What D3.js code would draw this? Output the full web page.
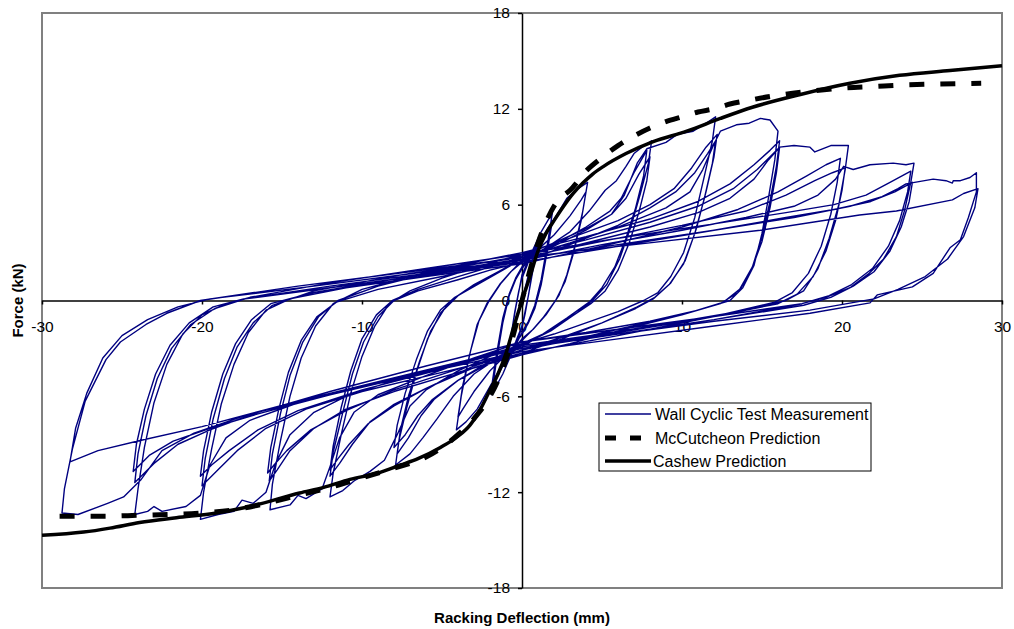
<!DOCTYPE html>
<html>
<head>
<meta charset="utf-8">
<script src="https://cdn.jsdelivr.net/npm/d3@7"></script>
<style>
  html, body { margin: 0; padding: 0; background: #fff; }
  svg { display: block; font-family: "Liberation Sans", Arial, sans-serif; }
</style>
</head>
<body>
<svg id="chart" width="1014" height="629"></svg>
<script>
// ---- axis ticks ----
const xTicks = [-30, -20, -10, 0, 10, 20, 30];
const yTicks = [-18, -12, -6, 0, 6, 12, 18];

// ---- wall cyclic test record: [deflection mm, force kN], one array per cycle ----
const cyc1a = [[0,0],[0.3,1.2],[0.6,2.4],[0.9,3.6],[0.7,2.2],[0.45,0.6],[0.2,-0.8],[0,-1.7],[-0.4,-2.7],[-0.9,-3.8],[-0.7,-2.3],[-0.45,-0.7],[-0.2,0.6],[0,1.4]];
const cyc1b = [[0,1.4],[0.4,2.4],[0.9,3.4],[0.7,2.0],[0.4,0.3],[0.15,-0.9],[0,-1.6],[-0.4,-2.6],[-0.9,-3.6],[-0.65,-2.0],[-0.4,-0.5],[-0.15,0.8],[0,1.6]];
const cyc2a = [[0,1.6],[0.6,3.0],[1.2,4.3],[1.9,5.5],[1.6,3.6],[1.2,1.3],[0.8,-0.3],[0.4,-1.3],[0,-2.0],[-0.6,-3.2],[-1.2,-4.6],[-1.9,-5.9],[-1.6,-3.8],[-1.2,-1.4],[-0.8,0.3],[-0.4,1.3],[0,2.0]];
const cyc2b = [[0,2.0],[0.7,2.9],[1.3,4.0],[1.9,5.0],[1.6,3.2],[1.2,1.0],[0.8,-0.5],[0.4,-1.4],[0,-2.1],[-0.7,-3.1],[-1.3,-4.3],[-1.9,-5.4],[-1.6,-3.4],[-1.2,-1.1],[-0.8,0.4],[-0.4,1.4],[0,2.1]];
const cyc3a = [[0,2.1],[1.0,3.3],[1.9,4.9],[2.8,6.4],[3.5,7.0],[4.1,7.4],[3.8,5.6],[3.3,3.4],[2.8,1.6],[2.3,0.3],[1.5,-0.9],[0.7,-1.8],[0,-2.4],[-1.0,-3.6],[-1.9,-5.2],[-2.8,-6.8],[-3.5,-7.6],[-4.1,-8.1],[-3.8,-6.0],[-3.3,-3.5],[-2.8,-1.5],[-2.2,-0.2],[-1.4,1.0],[-0.7,1.8],[0,2.4]];
const cyc3b = [[0,2.4],[1.0,3.2],[2.0,4.1],[3.0,5.3],[3.7,6.3],[4.0,6.8],[3.7,5.0],[3.2,2.9],[2.7,1.2],[2.1,0.0],[1.3,-1.1],[0.6,-1.9],[0,-2.5],[-1.0,-3.4],[-2.0,-4.4],[-3.0,-5.7],[-3.7,-6.8],[-4.0,-7.3],[-3.7,-5.3],[-3.2,-3.1],[-2.7,-1.3],[-2.1,-0.1],[-1.3,1.1],[-0.6,1.9],[0,2.5]];
const cyc4a = [[0,2.5],[1.5,3.3],[3.0,4.3],[4.2,5.6],[5.2,6.9],[5.9,7.5],[6.5,8.4],[7.0,9.2],[7.5,9.6],[8.1,10.0],[7.9,8.6],[7.4,6.7],[6.8,4.6],[6.1,2.6],[5.3,1.0],[4.4,0.0],[3.4,-0.8],[1.8,-1.9],[0,-2.8],[-1.5,-3.6],[-3.0,-4.6],[-4.3,-6.0],[-5.3,-7.4],[-6.2,-8.6],[-7.0,-9.6],[-7.9,-10.3],[-7.7,-8.8],[-7.2,-6.7],[-6.6,-4.5],[-5.9,-2.4],[-5.1,-0.8],[-4.3,0.1],[-3.0,1.0],[-1.5,1.8],[0,2.6]];
const cyc4b = [[0,2.6],[2.0,3.5],[4.0,4.6],[5.5,5.6],[6.2,6.4],[7.0,8.0],[7.8,9.4],[7.6,7.8],[7.1,5.8],[6.5,3.9],[5.8,2.1],[5.0,0.8],[4.2,-0.1],[2.8,-1.1],[1.3,-2.1],[0,-2.9],[-2.0,-3.9],[-4.0,-5.0],[-5.5,-6.2],[-6.3,-7.2],[-7.1,-8.6],[-7.8,-9.6],[-7.6,-8.1],[-7.1,-6.0],[-6.4,-3.8],[-5.7,-1.9],[-4.9,-0.6],[-4.0,0.3],[-2.5,1.2],[-1.2,1.9],[0,2.8]];
const cyc4c = [[0,2.8],[2.0,3.6],[4.0,4.5],[5.6,5.4],[6.5,6.4],[7.3,7.9],[8.0,9.0],[7.8,7.5],[7.3,5.5],[6.7,3.6],[6.0,1.9],[5.2,0.6],[4.3,-0.2],[2.8,-1.2],[1.3,-2.1],[0,-2.7],[-2.0,-3.8],[-4.0,-5.0],[-5.6,-6.2],[-6.5,-7.2],[-7.3,-8.4],[-8.0,-9.2],[-7.8,-7.8],[-7.3,-5.8],[-6.6,-3.7],[-5.9,-1.9],[-5.1,-0.6],[-4.2,0.2],[-2.6,1.1],[-1.2,1.9],[0,2.6]];
const cyc5a = [[0,2.6],[2.0,3.4],[4.0,4.4],[5.6,5.4],[6.4,6.6],[7.2,8.6],[7.8,9.5],[9.0,9.9],[9.7,10.4],[10.7,10.6],[11.5,11.1],[12.1,11.5],[11.9,10.0],[11.4,7.8],[10.8,5.2],[10.1,3.0],[9.3,1.5],[8.5,0.5],[7.6,0.0],[6.0,-0.7],[4.0,-1.4],[2.0,-2.1],[0,-2.7],[-2.0,-3.5],[-4.0,-4.4],[-6.0,-5.6],[-7.0,-6.6],[-7.8,-8.4],[-8.6,-10.0],[-9.5,-10.7],[-10.5,-11.3],[-11.2,-11.9],[-12.0,-12.3],[-11.8,-10.8],[-11.3,-8.4],[-10.7,-5.8],[-10.0,-3.5],[-9.2,-1.6],[-8.3,-0.2],[-7.0,0.6],[-5.0,1.4],[-2.5,2.2],[0,2.9]];
const cyc5b = [[0,2.9],[3.0,3.9],[6.0,5.0],[8.0,6.0],[9.5,7.0],[10.6,8.3],[11.5,9.6],[12.2,10.4],[12.0,9.0],[11.5,6.8],[10.9,4.5],[10.2,2.5],[9.3,1.1],[8.3,0.2],[7.2,-0.4],[5.0,-1.4],[2.5,-2.4],[0,-3.3],[-3.0,-4.2],[-6.0,-5.5],[-8.0,-6.5],[-9.5,-7.6],[-10.6,-9.0],[-11.4,-10.2],[-12.0,-11.0],[-11.8,-9.5],[-11.2,-7.0],[-10.6,-4.6],[-9.9,-2.6],[-9.0,-1.0],[-8.0,0.0],[-6.5,0.6],[-4.0,1.3],[-2.0,1.9],[0,2.4]];
const cyc5c = [[0,2.4],[3.0,3.5],[6.0,4.7],[8.0,5.8],[9.6,6.8],[10.8,8.0],[11.6,9.2],[12.1,10.0],[11.9,8.6],[11.4,6.4],[10.8,4.2],[10.1,2.3],[9.2,1.0],[8.2,0.1],[7.1,-0.5],[5.0,-1.4],[2.5,-2.3],[0,-3.1],[-3.0,-4.1],[-6.0,-5.5],[-8.0,-6.6],[-9.6,-7.7],[-10.8,-9.0],[-11.5,-9.9],[-12.0,-10.6],[-11.8,-9.1],[-11.3,-6.7],[-10.7,-4.4],[-10.0,-2.4],[-9.1,-0.9],[-8.1,0.0],[-6.5,0.7],[-4.0,1.5],[-2.0,2.1],[0,2.7]];
const cyc6a = [[0,2.7],[3.0,3.6],[6.0,4.6],[9.0,5.8],[10.5,6.8],[11.3,8.2],[12.0,9.8],[12.4,10.6],[13.4,11.0],[14.2,11.1],[14.9,11.4],[15.5,11.3],[16.0,10.6],[15.8,8.8],[15.4,6.4],[15.0,4.2],[14.5,2.2],[13.8,0.8],[13.0,0.0],[11.0,-0.6],[8.0,-1.3],[4.0,-2.0],[0,-2.6],[-3.0,-3.6],[-6.0,-4.7],[-9.0,-5.9],[-10.5,-7.0],[-11.4,-8.6],[-12.0,-10.4],[-12.5,-11.8],[-13.5,-12.4],[-14.0,-12.2],[-14.5,-12.8],[-15.75,-13.1],[-15.6,-11.5],[-15.1,-8.8],[-14.5,-6.0],[-13.8,-3.6],[-12.9,-1.6],[-11.8,-0.2],[-10.0,0.7],[-7.0,1.5],[-3.5,2.3],[0,3.0]];
const cyc6b = [[0,3.0],[4.0,4.0],[8.0,5.1],[11.0,6.2],[13.0,7.3],[14.5,8.5],[15.5,9.4],[16.1,10.0],[15.9,8.4],[15.5,6.2],[15.0,4.0],[14.4,2.1],[13.6,0.7],[12.6,-0.1],[10.0,-0.9],[6.0,-1.9],[3.0,-2.7],[0,-3.4],[-4.0,-4.5],[-8.0,-5.7],[-11.0,-6.8],[-13.0,-8.0],[-14.5,-9.4],[-15.3,-10.6],[-15.8,-11.3],[-15.6,-9.6],[-15.1,-7.1],[-14.5,-4.7],[-13.7,-2.6],[-12.7,-1.0],[-11.5,0.0],[-9.0,0.9],[-5.0,1.9],[0,2.8]];
const cyc6c = [[0,2.8],[4.0,3.8],[8.0,4.9],[11.0,5.9],[13.2,7.0],[14.7,8.2],[15.6,9.1],[16.1,9.6],[15.9,8.0],[15.5,5.8],[15.0,3.7],[14.3,1.8],[13.5,0.5],[12.4,-0.2],[10.0,-0.9],[6.0,-1.8],[3.0,-2.5],[0,-3.1],[-4.0,-4.3],[-8.0,-5.6],[-11.0,-6.9],[-13.2,-8.1],[-14.7,-9.4],[-15.5,-10.3],[-15.9,-10.8],[-15.7,-9.2],[-15.2,-6.8],[-14.6,-4.5],[-13.8,-2.5],[-12.8,-1.0],[-11.6,-0.1],[-9.0,0.7],[-5.0,1.5],[0,2.6]];
const cyc7a = [[0,2.6],[4.0,3.6],[8.0,4.6],[11.0,5.5],[13.0,6.4],[14.5,7.6],[15.4,8.8],[16.1,9.6],[17.0,9.7],[18.0,9.6],[18.3,9.3],[19.3,9.7],[20.4,9.7],[20.2,8.2],[19.8,6.0],[19.2,3.9],[18.5,2.0],[17.6,0.6],[16.5,0.0],[14.0,-0.6],[10.0,-1.3],[5.0,-2.1],[0,-2.8],[-4.0,-3.9],[-8.0,-5.0],[-11.0,-6.0],[-13.0,-7.0],[-14.5,-8.4],[-15.4,-10.2],[-16.0,-12.0],[-16.8,-12.7],[-17.5,-12.5],[-18.0,-13.2],[-19.0,-13.4],[-20.1,-13.7],[-19.9,-12.0],[-19.4,-9.3],[-18.8,-6.5],[-18.0,-4.0],[-17.1,-2.0],[-16.0,-0.6],[-14.5,0.1],[-11.0,0.8],[-6.0,1.5],[0,2.3]];
const cyc7b = [[0,2.3],[5.0,3.4],[10.0,4.6],[13.5,5.7],[16.0,6.8],[17.8,7.8],[19.0,8.5],[19.9,8.9],[19.7,7.4],[19.3,5.4],[18.7,3.4],[17.9,1.7],[16.9,0.5],[15.8,-0.1],[12.0,-1.0],[6.0,-2.2],[0,-3.3],[-5.0,-4.5],[-10.0,-5.7],[-13.5,-6.8],[-16.0,-8.0],[-17.8,-9.4],[-19.0,-10.6],[-20.0,-11.6],[-19.8,-9.9],[-19.3,-7.4],[-18.6,-4.9],[-17.8,-2.9],[-16.8,-1.4],[-15.6,-0.3],[-13.0,0.6],[-7.0,1.7],[0,2.7]];
const cyc7c = [[0,2.7],[5.0,3.7],[10.0,4.7],[14.0,5.6],[16.5,6.6],[18.3,7.5],[19.4,8.0],[20.2,8.3],[20.0,6.9],[19.6,5.0],[19.0,3.1],[18.2,1.5],[17.2,0.4],[16.0,-0.2],[12.0,-1.0],[6.0,-2.0],[0,-2.9],[-5.0,-4.3],[-10.0,-5.6],[-14.0,-6.9],[-16.5,-8.1],[-18.3,-9.4],[-19.4,-10.3],[-20.1,-11.0],[-19.9,-9.4],[-19.4,-7.0],[-18.7,-4.6],[-17.9,-2.7],[-16.9,-1.2],[-15.7,-0.2],[-13.0,0.5],[-7.0,1.5],[0,2.5]];
const cyc8a = [[0,2.5],[5.0,3.5],[10.0,4.4],[14.0,5.2],[17.0,5.9],[18.5,6.6],[19.6,7.6],[20.1,8.4],[20.7,8.2],[21.75,8.5],[23.2,8.6],[24.0,8.5],[24.5,8.6],[24.3,7.4],[23.9,5.6],[23.4,4.0],[22.6,2.6],[21.7,1.7],[20.5,0.8],[19.0,0.2],[17.5,-0.2],[12.0,-1.2],[6.0,-2.1],[0,-3.0],[-5.0,-4.2],[-10.0,-5.4],[-14.0,-6.4],[-17.0,-7.5],[-18.5,-8.6],[-19.5,-10.3],[-20.1,-12.2],[-21.0,-12.9],[-22.5,-13.2],[-23.0,-12.9],[-23.4,-13.2],[-24.2,-13.4],[-24.0,-11.8],[-23.6,-9.2],[-23.0,-6.4],[-22.2,-4.0],[-21.2,-2.1],[-20.0,-0.9],[-18.5,-0.2],[-17.0,0.2],[-12.0,1.1],[-6.0,2.0],[0,2.9]];
const cyc8b = [[0,2.9],[6.0,3.9],[12.0,4.8],[16.5,5.5],[19.5,6.0],[21.5,6.6],[23.0,7.4],[24.3,8.1],[24.1,6.8],[23.6,5.0],[22.9,3.4],[21.9,2.0],[20.6,1.0],[19.2,0.3],[17.5,-0.2],[12.0,-1.0],[6.0,-1.8],[0,-2.6],[-6.0,-4.1],[-12.0,-5.7],[-16.5,-7.0],[-19.5,-8.1],[-21.5,-9.0],[-23.0,-10.2],[-24.2,-11.4],[-24.0,-9.6],[-23.5,-7.2],[-22.8,-4.9],[-21.9,-3.0],[-20.7,-1.5],[-19.2,-0.5],[-17.3,0.1],[-12.0,0.8],[-6.0,1.6],[0,2.4]];
const cyc8c = [[0,2.4],[6.0,3.4],[12.0,4.4],[16.5,5.2],[19.5,5.7],[21.8,6.2],[23.3,6.8],[24.4,7.4],[24.2,6.2],[23.7,4.6],[23.0,3.1],[22.0,1.8],[20.7,0.9],[19.3,0.2],[17.6,-0.3],[12.0,-1.2],[6.0,-2.1],[0,-3.0],[-6.0,-4.4],[-12.0,-5.9],[-16.5,-7.1],[-19.5,-8.0],[-21.8,-8.8],[-23.3,-9.7],[-24.3,-10.7],[-24.1,-9.0],[-23.6,-6.8],[-22.9,-4.6],[-22.0,-2.8],[-20.8,-1.4],[-19.3,-0.4],[-17.4,0.1],[-12.0,0.9],[-6.0,1.7],[0,2.6]];
const cyc9a = [[0,2.6],[6.0,3.5],[12.0,4.4],[17.0,5.2],[20.5,5.9],[22.5,6.5],[23.5,7.0],[24.0,7.3],[25.7,7.6],[26.5,7.5],[26.9,7.35],[26.95,7.5],[27.4,7.5],[28.0,7.7],[28.4,8.0],[28.4,6.8],[27.9,5.2],[27.4,3.8],[26.75,3.3],[25.7,1.7],[24.4,0.85],[22.2,0.35],[21.75,-0.15],[18.0,-0.8],[12.0,-1.6],[6.0,-2.4],[0,-3.2],[-6.0,-4.5],[-12.0,-5.9],[-17.0,-7.1],[-20.5,-8.3],[-22.5,-9.4],[-23.8,-11.2],[-24.9,-12.3],[-25.9,-12.7],[-27.75,-13.4],[-28.75,-13.3],[-28.6,-11.8],[-28.1,-9.3],[-27.3,-6.3],[-26.0,-3.7],[-25.1,-2.6],[-23.5,-1.5],[-22.2,-0.8],[-20.1,0.0],[-14.0,0.9],[-7.0,1.8],[0,2.7]];
const cyc9b = [[0,2.7],[7.0,3.5],[14.9,4.4],[21.1,5.35],[23.4,5.6],[26.9,6.3],[27.6,6.7],[28.5,7.0],[28.3,5.8],[27.6,4.0],[26.6,2.6],[25.2,1.5],[23.5,0.7],[22.0,0.1],[18.0,-0.6],[12.0,-1.3],[6.0,-2.1],[0,-2.9],[-7.0,-4.6],[-14.0,-6.3],[-20.0,-7.9],[-24.0,-8.8],[-26.5,-9.4],[-28.25,-10.1],[-27.9,-8.0],[-27.2,-5.8],[-26.2,-3.6],[-25.0,-2.2],[-23.4,-1.2],[-21.5,-0.4],[-19.5,0.1],[-13.0,0.9],[-6.0,1.8],[0,2.5]];

// ---- model predictions: [deflection mm, force kN] ----
const mccutcheonCurve = [[-28.9,-13.5],[-26,-13.5],[-24,-13.45],[-22,-13.4],[-20,-13.3],[-18,-13.1],[-16,-12.7],[-14,-12.2],[-12,-11.7],[-10,-11.1],[-8,-10.5],[-7,-10.2],[-6,-9.8],[-5,-9.2],[-4,-8.4],[-3,-7.4],[-2,-6.0],[-1.5,-5.0],[-1,-3.7],[-0.5,-2.0],[0,0],[0.5,1.9],[1,3.6],[1.5,4.9],[2,5.9],[2.5,6.5],[3,6.9],[4,8.1],[5,8.95],[6,9.7],[7,10.3],[8,10.8],[9,11.2],[10,11.5],[11,11.8],[12,12.0],[13,12.3],[14,12.5],[16,12.85],[18,13.1],[20,13.3],[22,13.4],[24,13.5],[26,13.55],[28.7,13.6]];
const cashewCurve = [[-30,-14.7],[-27.4,-14.5],[-25.75,-14.25],[-23.9,-13.9],[-21.6,-13.6],[-19.1,-13.3],[-17,-12.9],[-13.9,-12.05],[-12.4,-11.7],[-10.75,-11.2],[-9,-10.8],[-7.6,-10.3],[-6.5,-9.9],[-5.1,-9.2],[-4,-8.5],[-3.25,-7.8],[-2.6,-6.8],[-2,-5.6],[-1.5,-4.6],[-1,-3.3],[-0.5,-1.6],[0,0],[0.5,1.5],[1,3.1],[1.5,4.2],[2,5.0],[2.6,5.9],[3.2,6.7],[3.8,7.35],[4.4,7.9],[5.1,8.4],[6.5,9.2],[8.2,9.95],[10.3,10.6],[12.4,11.4],[14.4,12.1],[17.4,12.9],[20.5,13.6],[23.6,14.1],[26.75,14.4],[30,14.7]];

const seriesNames = ["Wall Cyclic Test Measurement", "McCutcheon Prediction", "Cashew Prediction"];

const testCycles = [cyc1a, cyc1b, cyc2a, cyc2b, cyc3a, cyc3b, cyc4a, cyc4b, cyc4c,
                    cyc5a, cyc5b, cyc5c, cyc6a, cyc6b, cyc6c, cyc7a, cyc7b, cyc7c,
                    cyc8a, cyc8b, cyc8c, cyc9a, cyc9b];
const testRecord = testCycles.flat();

// ---- layout ----
const svg = d3.select("#chart");
const plot = { left: 42, right: 1002, top: 13, bottom: 588 };
const fontStack = '"Liberation Sans", Arial, sans-serif';

const x = d3.scaleLinear().domain([-30, 30]).range([plot.left, plot.right]);
const y = d3.scaleLinear().domain([-18, 18]).range([plot.bottom, plot.top]);

// plot frame
svg.append("rect")
  .attr("x", plot.left).attr("y", plot.top)
  .attr("width", plot.right - plot.left).attr("height", plot.bottom - plot.top)
  .attr("fill", "#fff").attr("stroke", "#808080").attr("stroke-width", 2);

// axes crossing at the origin
const xAxis = svg.append("g")
  .attr("transform", `translate(0,${y(0)})`)
  .call(d3.axisBottom(x).tickValues(xTicks)
        .tickSize(4).tickSizeOuter(0).tickPadding(16));
const yAxis = svg.append("g")
  .attr("transform", `translate(${x(0)},0)`)
  .call(d3.axisLeft(y).tickValues(yTicks)
        .tickSize(4).tickSizeOuter(0).tickPadding(8));

[xAxis, yAxis].forEach(g => {
  g.select(".domain").attr("stroke", "#000").attr("stroke-width", 1.5);
  g.selectAll(".tick line").attr("stroke", "#000").attr("stroke-width", 1.5);
  g.selectAll(".tick text")
    .attr("fill", "#000")
    .style("font-family", fontStack)
    .style("font-size", "15.5px")
    .text(d => String(d));   // plain hyphen for negatives
});

// ---- series ----
const line = d3.line().x(d => x(d[0])).y(d => y(d[1]));
const smooth = d3.line().x(d => x(d[0])).y(d => y(d[1])).curve(d3.curveMonotoneX);

svg.append("path")
  .datum(testRecord)
  .attr("d", line)
  .attr("fill", "none")
  .attr("stroke", "#000080")
  .attr("stroke-width", 1.4)
  .attr("stroke-linejoin", "round");

svg.append("path")
  .datum(mccutcheonCurve)
  .attr("d", smooth)
  .attr("fill", "none")
  .attr("stroke", "#000")
  .attr("stroke-width", 5)
  .attr("stroke-dasharray", "15,16");

svg.append("path")
  .datum(cashewCurve)
  .attr("d", smooth)
  .attr("fill", "none")
  .attr("stroke", "#000")
  .attr("stroke-width", 3.5);

// ---- axis titles ----
svg.append("text")
  .attr("x", (plot.left + plot.right) / 2).attr("y", 623)
  .attr("text-anchor", "middle")
  .style("font-size", "15px").style("font-weight", "bold")
  .text("Racking Deflection (mm)");

svg.append("text")
  .attr("transform", `translate(23,${(plot.top + plot.bottom) / 2}) rotate(-90)`)
  .attr("text-anchor", "middle")
  .style("font-size", "15px").style("font-weight", "bold")
  .text("Force (kN)");

// ---- legend ----
const legend = svg.append("g").attr("transform", "translate(599,403)");
legend.append("rect")
  .attr("width", 272).attr("height", 68)
  .attr("fill", "#fff").attr("stroke", "#000").attr("stroke-width", 1);

const legendStyles = [
  { stroke: "#000080", width: 1.4, dash: null },
  { stroke: "#000", width: 5, dash: "11,14" },
  { stroke: "#000", width: 3.5, dash: null }
];
const rowY = [11, 35, 58];
seriesNames.forEach((name, i) => {
  const s = legendStyles[i];
  legend.append("line")
    .attr("x1", 6).attr("x2", 52).attr("y1", rowY[i]).attr("y2", rowY[i])
    .attr("stroke", s.stroke).attr("stroke-width", s.width)
    .attr("stroke-dasharray", s.dash);
  legend.append("text")
    .attr("x", i === 2 ? 54 : 56).attr("y", rowY[i])
    .attr("dy", "0.35em")
    .style("font-size", "16px")
    .text(name);
});
</script>
</body>
</html>
